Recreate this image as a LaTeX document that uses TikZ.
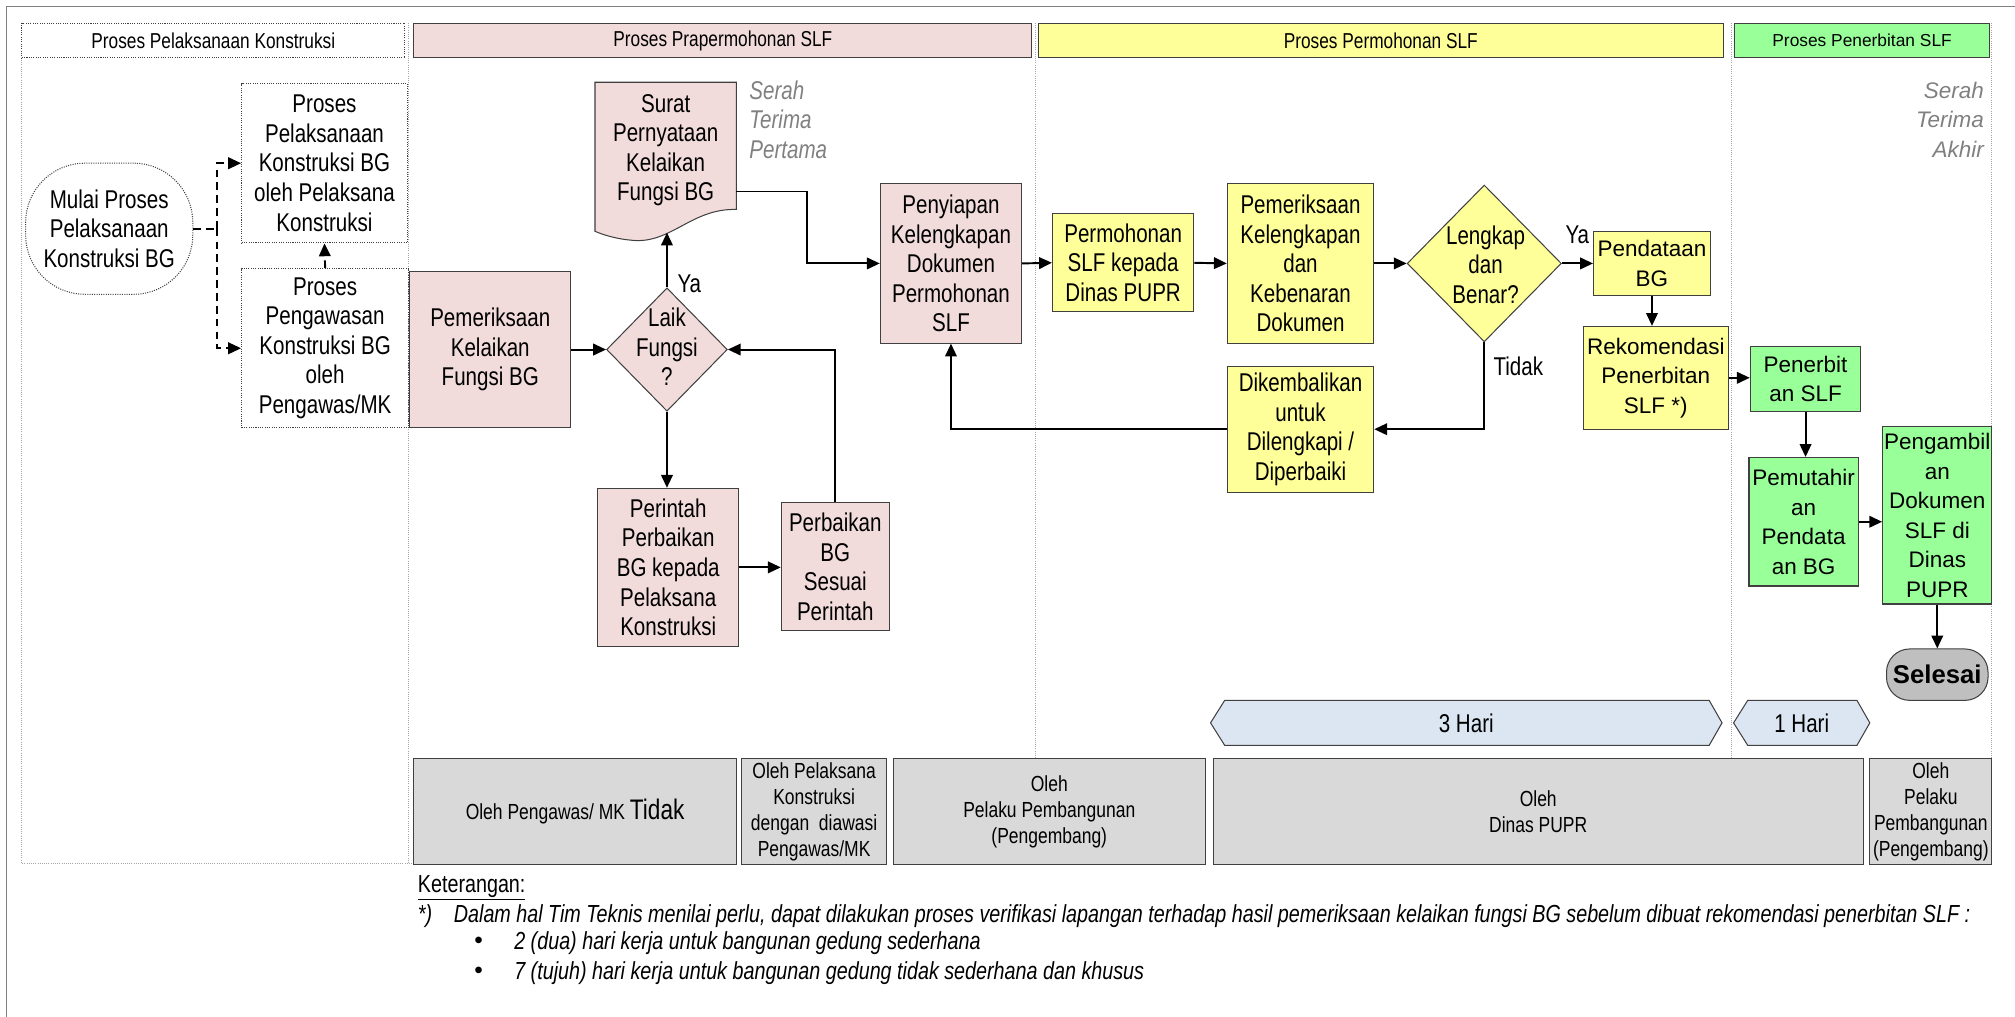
\documentclass[tikz,border=0pt]{standalone}
\usepackage{fontspec}
\setmainfont{Liberation Sans}
\newfontfamily\nar[FakeStretch=0.8]{Liberation Sans}
\usetikzlibrary{arrows.meta,shapes.geometric,calc}
\definecolor{pinkf}{HTML}{F2DCDB}
\definecolor{yelf}{HTML}{FFFF99}
\definecolor{grnf}{HTML}{99FF99}
\definecolor{grayf}{HTML}{D9D9D9}
\definecolor{bluef}{HTML}{DCE6F2}
\definecolor{self}{HTML}{BFBFBF}
\definecolor{bord}{HTML}{404040}
\definecolor{lanec}{HTML}{A6A6A6}
\definecolor{serah}{HTML}{808080}
\begin{document}
\begin{tikzpicture}[x=1pt,y=-1pt,
  base/.style={draw=bord, line width=0.8pt, align=center, inner sep=1pt},
  nfont/.style={font=\nar\fontsize{20}{23}\selectfont},
  nbox/.style={base, nfont},
  pbox/.style={nbox, fill=pinkf},
  ybox/.style={nbox, fill=yelf},
  yrbox/.style={base, fill=yelf, font=\fontsize{17.5}{23}\selectfont},
  gbox/.style={base, fill=grnf, font=\fontsize{17.5}{23}\selectfont},
  hdr/.style={base, font=\nar\fontsize{16.8}{19}\selectfont, minimum height=27},
  botbox/.style={base, fill=grayf, minimum height=83, font=\nar\fontsize{17}{20.3}\selectfont},
  lane/.style={draw=lanec, line width=0.7pt, densely dotted},
  arr/.style={line width=1.5pt, -{Triangle[length=10pt,width=9pt]}},
  darr/.style={line width=1.5pt, dash pattern=on 6pt off 4pt, -{Triangle[length=10pt,width=9pt]}},
  dline/.style={line width=1.5pt, dash pattern=on 6pt off 4pt},
  lbl/.style={nfont, inner sep=0pt},
  timeb/.style={fill=bluef, draw=bord, line width=0.8pt},
  legf/.style={font=\nar\itshape\fontsize{19.2}{22}\selectfont, inner sep=0pt, anchor=west}
]
\useasboundingbox (0,0) rectangle (1568,791);
% outer frame
\draw[draw=serah, line width=1.2pt] (5,791) -- (5,5) -- (1568,5);
% lane lines
\draw[lane] (17,45) -- (17,672) -- (322,672);
\draw[lane] (318,18) -- (318,672);
\draw[lane] (806,18) -- (806,590);
\draw[lane] (1347,18) -- (1347,590);
\draw[lane] (1550,18) -- (1550,590);

% headers
\node[hdr, densely dotted, minimum width=298] (h1) at (166,31.5) {Proses Pelaksanaan Konstruksi};
\node[hdr, fill=pinkf, minimum width=481] (h2) at (562.5,31.5) {Proses Prapermohonan SLF};
\node[hdr, fill=yelf, minimum width=533] (h3) at (1074.5,31.5) {Proses Permohonan SLF};
\node[hdr, fill=grnf, minimum width=198, font=\fontsize{13.5}{16}\selectfont] (h4) at (1449,31.5) {Proses Penerbitan SLF};

% lane 1
\node[nbox, densely dotted, rounded corners=46, minimum width=130, minimum height=102] (mulai) at (85,178) {Mulai Proses\\Pelaksanaan\\Konstruksi BG};
\node[nbox, densely dotted, minimum width=129, minimum height=124] (pelak) at (252.5,127) {Proses\\Pelaksanaan\\Konstruksi BG\\oleh Pelaksana\\Konstruksi};
\node[nbox, densely dotted, minimum width=130, minimum height=124] (peng) at (253,271) {Proses\\Pengawasan\\Konstruksi BG\\oleh\\Pengawas/MK};
\coordinate (jn) at (169,178);
\draw[dline] (mulai.east) -- (jn);
\draw[darr] (jn) |- (pelak.west);
\draw[darr] (jn) |- (peng.west);
\draw[darr] (peng.north) -- (pelak.south);

% lane 2
\node[pbox, minimum width=125, minimum height=122] (pk) at (381.5,272) {Pemeriksaan\\Kelaikan\\Fungsi BG};
\node[diamond, draw=bord, line width=0.8pt, fill=pinkf, minimum width=94, minimum height=96, inner sep=0pt] (laik) at (519,272) {};
\node[lbl, align=center] (laiktxt) at (519,270) {Laik\\Fungsi\\?};
\filldraw[fill=pinkf, draw=bord, line width=0.8pt] (463,64) -- (573,64) -- (573,163) .. controls (538,162) and (522,190) .. (492,187) .. controls (480,186) and (470,183) .. (463,180) -- cycle;
\node[lbl, align=center] (surat) at (518,117) {Surat\\Pernyataan\\Kelaikan\\Fungsi BG};
\coordinate (suratb) at (519,181);
\coordinate (suratr) at (573,149);
\node[lbl, align=left, anchor=west, text=serah, font=\nar\itshape\fontsize{20}{23}\selectfont] (serah1) at (583,93) {Serah\\Terima\\Pertama};
\node[pbox, minimum width=110, minimum height=123] (perintah) at (520,441.5) {Perintah\\Perbaikan\\BG kepada\\Pelaksana\\Konstruksi};
\node[pbox, minimum width=84, minimum height=100] (perbaikan) at (650,441) {Perbaikan\\BG\\Sesuai\\Perintah};
\node[pbox, minimum width=110, minimum height=124] (peny) at (740,205) {Penyiapan\\Kelengkapan\\Dokumen\\Permohonan\\SLF};

\draw[arr] (pk.east) -- (laik.west);
\draw[arr] (laik.north) -- (suratb);
\node[lbl, anchor=west] (ya1) at (527,221) {Ya};
\draw[arr] (laik.south) -- (laik.south |- perintah.north);
\draw[arr] (perintah.east) -- (perintah.east -| perbaikan.west);
\draw[arr] (perbaikan.north) |- (laik.east);
\draw[arr] (suratr) -- ++(55,0) |- (peny.west);

% lane 3
\node[ybox, minimum width=110, minimum height=76] (perm) at (874,204.5) {Permohonan\\SLF kepada\\Dinas PUPR};
\node[ybox, minimum width=114, minimum height=124] (pkk) at (1012,205) {Pemeriksaan\\Kelengkapan\\dan\\Kebenaran\\Dokumen};
\node[diamond, draw=bord, line width=0.8pt, fill=yelf, minimum width=120, minimum height=122, inner sep=0pt] (lengkap) at (1155,205) {};
\node[lbl, align=center] (lengtxt) at (1156,206) {Lengkap\\dan\\Benar?};
\node[ybox, minimum width=114, minimum height=98] (dik) at (1012,334) {Dikembalikan\\untuk\\Dilengkapi /\\Diperbaiki};
\node[yrbox, minimum width=91, minimum height=50] (pend) at (1285.5,205) {Pendataan\\BG};
\node[yrbox, minimum width=113, minimum height=80] (rek) at (1288.5,294) {Rekomendasi\\Penerbitan\\SLF *)};

\draw[arr] (peny.east) -- (perm.west);
\draw[arr] (perm.east) -- (pkk.west);
\draw[arr] (pkk.east) -- (lengkap.west);
\draw[arr] (lengkap.east) -- (pend.west);
\node[lbl, anchor=west] (ya2) at (1218,183) {Ya};
\draw[arr] (pend.south) -- (pend.south |- rek.north);
\draw[arr] (lengkap.south) |- (dik.east);
\node[lbl, anchor=west] (tidak) at (1162,285) {Tidak};
\draw[arr] (dik.west) -| (peny.south);

% lane 4
\node[gbox, minimum width=86, minimum height=50] (pen) at (1405,295) {Penerbit\\an SLF};
\node[gbox, minimum width=85, minimum height=100] (pem) at (1403.5,406) {Pemutahir\\an\\Pendata\\an BG};
\node[gbox, minimum width=85, minimum height=138] (amb) at (1507.5,401) {Pengambil\\an\\Dokumen\\SLF di\\Dinas\\PUPR};
\node[base, fill=self, rounded corners=18, minimum width=79, minimum height=40, font=\bfseries\fontsize{20}{24}\selectfont] (sel) at (1507.5,525) {Selesai};
\node[lbl, align=right, anchor=east, text=serah, font=\itshape\fontsize{17.5}{23}\selectfont] (serah2) at (1544,93) {Serah\\Terima\\Akhir};

\draw[arr] (rek.east) -- (rek.east -| pen.west);
\draw[arr] (pen.south) -- (pen.south |- pem.north);
\draw[arr] (pem.east) -- (pem.east -| amb.west);
\draw[arr] (amb.south) -- (sel.north);

% timeline
\filldraw[timeb] (953,545) -- (1330,545) -- (1340,562.5) -- (1330,580) -- (953,580) -- (942,562.5) -- cycle;
\node[lbl] (t3) at (1141,562.5) {3 Hari};
\filldraw[timeb] (1360,545) -- (1445,545) -- (1455,562.5) -- (1445,580) -- (1360,580) -- (1349,562.5) -- cycle;
\node[lbl] (t1) at (1402,562.5) {1 Hari};

% bottom boxes
\node[botbox, minimum width=251] (b1) at (447.5,631.5) {Oleh Pengawas/ MK {\fontsize{22}{24}\selectfont Tidak}};
\node[botbox, minimum width=113] (b2) at (633.5,631.5) {Oleh Pelaksana\\Konstruksi\\dengan\ \ diawasi\\Pengawas/MK};
\node[botbox, minimum width=243] (b3) at (816.5,631.5) {Oleh\\Pelaku Pembangunan\\(Pengembang)};
\node[botbox, minimum width=506] (b4) at (1197,631.5) {Oleh\\Dinas PUPR};
\node[botbox, minimum width=95] (b5) at (1502.5,631.5) {Oleh\\Pelaku\\Pembangunan\\(Pengembang)};

% legend
\node[legf, font=\nar\fontsize{19.2}{22}\selectfont] (ket) at (325,691) {\underline{Keterangan:}};
\node[legf] (star) at (325,713) {*)};
\node[legf] (ft) at (353,713) {Dalam hal Tim Teknis menilai perlu, dapat dilakukan proses verifikasi lapangan terhadap hasil pemeriksaan kelaikan fungsi BG sebelum dibuat rekomendasi penerbitan SLF :};
\node[legf, font=\fontsize{19}{22}\selectfont] (bul1) at (369,734) {\textbullet};
\node[legf] (l1) at (400,734) {2 (dua) hari kerja untuk bangunan gedung sederhana};
\node[legf, font=\fontsize{19}{22}\selectfont] (bul2) at (369,757) {\textbullet};
\node[legf] (l2) at (400,757) {7 (tujuh) hari kerja untuk bangunan gedung tidak sederhana dan khusus};
\end{tikzpicture}
\end{document}
